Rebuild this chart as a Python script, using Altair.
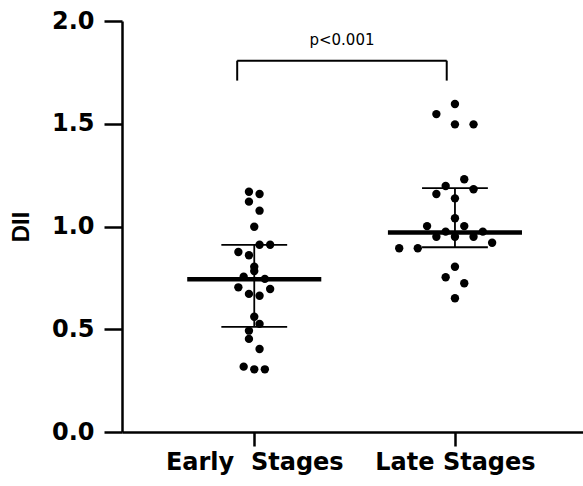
import altair as alt
import pandas as pd

# ---- data ----
categories = ["Early\u00a0 Stages", "Late Stages"]

early_values = [1.169, 1.158, 1.121, 1.077, 0.999, 0.911, 0.911, 0.876, 0.860, 0.804,
                0.783, 0.756, 0.745, 0.704, 0.696, 0.672, 0.663, 0.561, 0.526, 0.493,
                0.453, 0.404, 0.318, 0.305, 0.305]
early_slots = [-1, 1, -1, 1, 0, 1, 3, -3, -1, 0, 0, -2, 2, -3, 3, -1, 1, 0, 1, -1,
               -1, 1, -2, 0, 2]

late_values = [1.596, 1.547, 1.497, 1.497, 1.230, 1.197, 1.181, 1.158, 1.137, 1.040,
               1.002, 1.002, 0.975, 0.975, 0.950, 0.950, 0.950, 0.921, 0.894, 0.894,
               0.804, 0.753, 0.724, 0.651]
late_slots = [0, -2, 0, 2, 1, -1, 2, -2, 0, 0, -3, 1, -1, 3, -2, 0, 2, 4, -6, -4,
              0, -1, 1, 0]

medians = [0.743, 0.971]
lower = [0.512, 0.899]
upper = [0.911, 1.187]

p_label = "p<0.001"
bracket_y = 1.807
bracket_drop = 1.71

# ---- layout constants (category units) ----
slot_step = [0.0264, 0.0463]
median_half = 0.334
cap_half = 0.164
bracket_left_off = -0.085
bracket_right_off = -0.041

rows = []
for gi, (vals, slots) in enumerate([(early_values, early_slots), (late_values, late_slots)]):
    for v, s in zip(vals, slots):
        rows.append({"pos": gi + s * slot_step[gi], "DII": v, "group": categories[gi]})
points_df = pd.DataFrame(rows)

summary_df = pd.DataFrame({
    "pos": [0, 1],
    "med": medians,
    "low": lower,
    "high": upper,
    "mx1": [i - median_half for i in range(2)],
    "mx2": [i + median_half for i in range(2)],
    "cx1": [i - cap_half for i in range(2)],
    "cx2": [i + cap_half for i in range(2)],
})

bl = 0 + bracket_left_off
br = 1 + bracket_right_off
bracket_h = pd.DataFrame({"x1": [bl], "x2": [br], "y": [bracket_y]})
bracket_v = pd.DataFrame({"x": [bl, br], "y1": [bracket_drop] * 2, "y2": [bracket_y] * 2})
label_df = pd.DataFrame({"x": [(bl + br) / 2], "y": [1.883], "t": [p_label]})

xscale = alt.Scale(domain=[-0.659, 1.638], nice=False, zero=False)
yscale = alt.Scale(domain=[0, 2], nice=False)

label_expr = "datum.value == 0 ? '%s' : '%s'" % (categories[0], categories[1])

LABEL_FONT = "DejaVu Sans"

x_axis = alt.Axis(values=[0, 1], labelExpr=label_expr, title=None, tickSize=14,
                  tickWidth=2.5, domainWidth=2.5, labelPadding=4, grid=False,
                  labelFontSize=24, labelFontWeight="bold", labelColor="black",
                  domainColor="black", tickColor="black", labelFont=LABEL_FONT)
y_axis = alt.Axis(values=[0, 0.5, 1, 1.5, 2], format=".1f", title="DII", tickSize=18,
                  tickWidth=2.5, domainWidth=2.5, labelPadding=10, grid=False,
                  labelFontSize=24, labelFontWeight="bold", titleFontSize=24,
                  titleFontWeight="bold", titlePadding=18, labelColor="black",
                  titleColor="black", domainColor="black", tickColor="black",
                  labelFont=LABEL_FONT, titleFont="Liberation Sans")

points = alt.Chart(points_df).mark_circle(size=70, color="black", opacity=1).encode(
    x=alt.X("pos:Q", scale=xscale, axis=x_axis),
    y=alt.Y("DII:Q", scale=yscale, axis=y_axis),
)

med_rule = alt.Chart(summary_df).mark_rule(color="black", strokeWidth=4.5).encode(
    x=alt.X("mx1:Q", scale=xscale), x2="mx2:Q", y=alt.Y("med:Q", scale=yscale))
cap_hi = alt.Chart(summary_df).mark_rule(color="black", strokeWidth=1.8).encode(
    x=alt.X("cx1:Q", scale=xscale), x2="cx2:Q", y=alt.Y("high:Q", scale=yscale))
cap_lo = alt.Chart(summary_df).mark_rule(color="black", strokeWidth=1.8).encode(
    x=alt.X("cx1:Q", scale=xscale), x2="cx2:Q", y=alt.Y("low:Q", scale=yscale))
vert = alt.Chart(summary_df).mark_rule(color="black", strokeWidth=1.8).encode(
    x=alt.X("pos:Q", scale=xscale), y=alt.Y("low:Q", scale=yscale), y2="high:Q")

b_h = alt.Chart(bracket_h).mark_rule(color="black", strokeWidth=2).encode(
    x=alt.X("x1:Q", scale=xscale), x2="x2:Q", y=alt.Y("y:Q", scale=yscale))
b_v = alt.Chart(bracket_v).mark_rule(color="black", strokeWidth=2).encode(
    x=alt.X("x:Q", scale=xscale), y=alt.Y("y1:Q", scale=yscale), y2="y2:Q")
b_t = alt.Chart(label_df).mark_text(fontSize=15, font="DejaVu Sans", color="black",
                                    align="center", baseline="alphabetic").encode(
    x=alt.X("x:Q", scale=xscale), y=alt.Y("y:Q", scale=yscale), text="t:N")

chart = alt.layer(points, med_rule, cap_hi, cap_lo, vert, b_h, b_v, b_t).properties(
    width=461, height=411,
    autosize=alt.AutoSizeParams(type="none"),
    padding={"left": 122, "top": 21, "right": 0, "bottom": 54},
    background="white",
).configure_view(stroke=None)

chart.save("out.html", embed_options={"renderer": "svg", "actions": False})
